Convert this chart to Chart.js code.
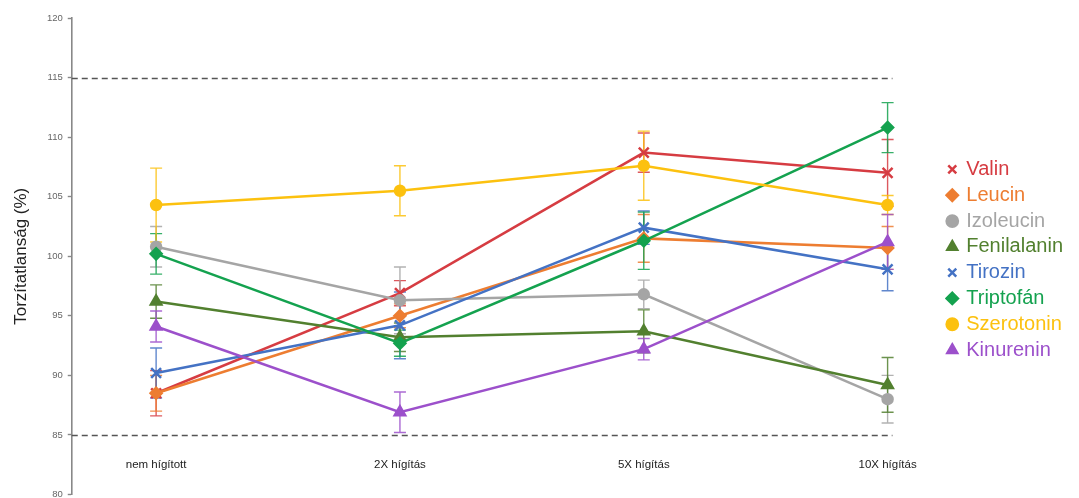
<!DOCTYPE html>
<html>
<head>
<meta charset="utf-8">
<script src="https://cdn.jsdelivr.net/npm/chart.js@4.4.1/dist/chart.umd.min.js"></script>
<style>
  html, body { margin: 0; padding: 0; background: #fff; }
  #wrap { width: 1079px; height: 498px; }
</style>
</head>
<body>
<div id="wrap"><canvas id="chart"></canvas></div>
<script>
// hígítási szintek
const categories = ['nem hígított', '2X hígítás', '5X hígítás', '10X hígítás'];

// átlagok és szórások aminosavanként
const valin = [88.5, 96.9, 108.7, 107.0];
const valinErr = [1.9, 1.05, 1.65, 2.8];
const leucin = [88.5, 95.0, 101.5, 100.7];
const leucinErr = [1.5, 1.0, 2.0, 1.8];
const izoleucin = [100.8, 96.3, 96.8, 88.0];
const izoleucinErr = [1.7, 2.8, 1.2, 2.0];
const fenilalanin = [96.2, 93.2, 93.7, 89.2];
const fenilalaninErr = [1.4, 1.2, 1.8, 2.3];
const tirozin = [90.2, 94.2, 102.4, 98.9];
const tirozinErr = [2.1, 2.8, 1.4, 1.8];
const triptofan = [100.2, 92.7, 101.3, 110.8];
const triptofanErr = [1.7, 1.1, 2.4, 2.1];
const szerotonin = [104.3, 105.5, 107.6, 104.3];
const szerotoninErr = [3.1, 2.1, 2.9, 0.8];
const kinurenin = [94.1, 86.9, 92.2, 101.2];
const kinureninErr = [1.3, 1.7, 0.9, 2.3];

const yTicks = [80, 85, 90, 95, 100, 105, 110, 115, 120];
const limits = [85, 115];

const series = [
  { label: 'Valin',       values: valin,       err: valinErr,       color: '#d63c42', style: 'crossRot', r: 7 },
  { label: 'Leucin',      values: leucin,      err: leucinErr,      color: '#ed7d31', style: 'rectRot',  r: 5.5 },
  { label: 'Izoleucin',   values: izoleucin,   err: izoleucinErr,   color: '#a5a5a5', style: 'circle',   r: 5 },
  { label: 'Fenilalanin', values: fenilalanin, err: fenilalaninErr, color: '#52802f', style: 'triangle', r: 6 },
  { label: 'Tirozin',     values: tirozin,     err: tirozinErr,     color: '#4472c4', style: 'crossRot', r: 7 },
  { label: 'Triptofán',   values: triptofan,   err: triptofanErr,   color: '#14a24f', style: 'rectRot',  r: 5.5 },
  { label: 'Szerotonin',  values: szerotonin,  err: szerotoninErr,  color: '#fcc10f', style: 'circle',   r: 5 },
  { label: 'Kinurenin',   values: kinurenin,   err: kinureninErr,   color: '#9c50cb', style: 'triangle', r: 6 }
];

const datasets = series.map((s, i) => ({
  label: s.label,
  data: s.values.map((v, j) => ({ x: j, y: v })),
  errors: s.err,
  borderColor: s.color,
  backgroundColor: s.color,
  borderWidth: 2.5,
  pointStyle: s.style,
  pointRadius: s.r,
  pointBorderWidth: 2.5,
  pointBackgroundColor: s.color,
  pointBorderColor: s.color,
  tension: 0,
  clip: false,
  order: series.length - i
}));

// szaggatott határvonalak 85 és 115 %-nál
const limitLines = {
  id: 'limitLines',
  beforeDatasetsDraw(chart) {
    const { ctx, chartArea } = chart;
    const y = chart.scales.y;
    ctx.save();
    ctx.strokeStyle = '#555';
    ctx.lineWidth = 1.4;
    ctx.setLineDash([6, 4]);
    limits.forEach(v => {
      const py = Math.round(y.getPixelForValue(v)) + 0.5;
      ctx.beginPath();
      ctx.moveTo(chartArea.left, py);
      ctx.lineTo(chartArea.right, py);
      ctx.stroke();
    });
    ctx.restore();
  }
};

// hibasávok (±szórás)
const errorBars = {
  id: 'errorBars',
  beforeDatasetsDraw(chart) {
    const { ctx } = chart;
    const xs = chart.scales.x, ys = chart.scales.y;
    chart.data.datasets.forEach((ds, i) => {
      if (!chart.isDatasetVisible(i)) return;
      ctx.save();
      ctx.strokeStyle = ds.borderColor;
      ctx.globalAlpha = 0.85;
      ctx.lineWidth = 1.4;
      ds.data.forEach((pt, j) => {
        const e = ds.errors[j];
        const px = xs.getPixelForValue(pt.x);
        const top = ys.getPixelForValue(pt.y + e);
        const bot = ys.getPixelForValue(pt.y - e);
        ctx.beginPath();
        ctx.moveTo(px, top); ctx.lineTo(px, bot);
        ctx.moveTo(px - 6, top); ctx.lineTo(px + 6, top);
        ctx.moveTo(px - 6, bot); ctx.lineTo(px + 6, bot);
        ctx.stroke();
      });
      ctx.restore();
    });
  }
};

// a jelmagyarázatot kicsit távolabb toljuk a rajzterülettől
const legendGap = 50;
const legendShift = {
  id: 'legendShift',
  afterLayout(chart) {
    const lg = chart.legend;
    if (!lg) return;
    lg.left += legendGap;
    lg.right += legendGap;
    lg.top += 3.5;
    lg.bottom += 3.5;
  }
};

new Chart(document.getElementById('chart'), {
  type: 'line',
  data: { datasets },
  plugins: [limitLines, errorBars, legendShift],
  options: {
    responsive: true,
    maintainAspectRatio: false,
    animation: false,
    layout: { autoPadding: false, padding: { top: 18, bottom: 3.5, left: 11.5, right: 56 } },
    plugins: {
      tooltip: { enabled: false },
      legend: {
        position: 'right',
        labels: {
          usePointStyle: true,
          boxWidth: 8,
          boxHeight: 8,
          padding: 5.8,
          font: { family: "'Liberation Sans', Arial, sans-serif", size: 20 },
          sort: (a, b) => a.datasetIndex - b.datasetIndex,
          generateLabels(chart) {
            const items = Chart.defaults.plugins.legend.labels.generateLabels(chart);
            items.forEach(it => {
              it.fontColor = series[it.datasetIndex].color;
              it.lineWidth = 2.5;
            });
            return items;
          }
        }
      }
    },
    scales: {
      x: {
        type: 'linear',
        min: -0.346,
        max: 3.02,
        position: { y: 83.35 },
        afterBuildTicks(scale) {
          scale.ticks = categories.map((_, i) => ({ value: i }));
        },
        ticks: {
          padding: 3,
          maxRotation: 0,
          color: '#222',
          font: { family: "'Liberation Sans', Arial, sans-serif", size: 11.5 },
          callback: v => categories[v]
        },
        grid: { display: false, drawTicks: false },
        border: { display: false }
      },
      y: {
        min: 80,
        max: 120,
        afterBuildTicks(scale) {
          scale.ticks = yTicks.map(v => ({ value: v }));
        },
        // a szélső feliratok ne szűkítsék a rajzterületet
        afterFit(scale) {
          scale.paddingTop = 0;
          scale.paddingBottom = 0;
        },
        ticks: {
          padding: 5,
          color: '#666',
          font: { family: "'Liberation Sans', Arial, sans-serif", size: 9.5 }
        },
        grid: {
          drawOnChartArea: false,
          drawTicks: true,
          tickLength: 4,
          tickColor: '#888',
          tickWidth: 1.4
        },
        border: { display: true, color: '#888', width: 1.6 },
        title: {
          display: true,
          text: 'Torzítatlanság (%)',
          color: '#222',
          padding: { top: 0, bottom: 10 },
          font: { family: "'Liberation Sans', Arial, sans-serif", size: 17 }
        }
      }
    }
  }
});
</script>
</body>
</html>
